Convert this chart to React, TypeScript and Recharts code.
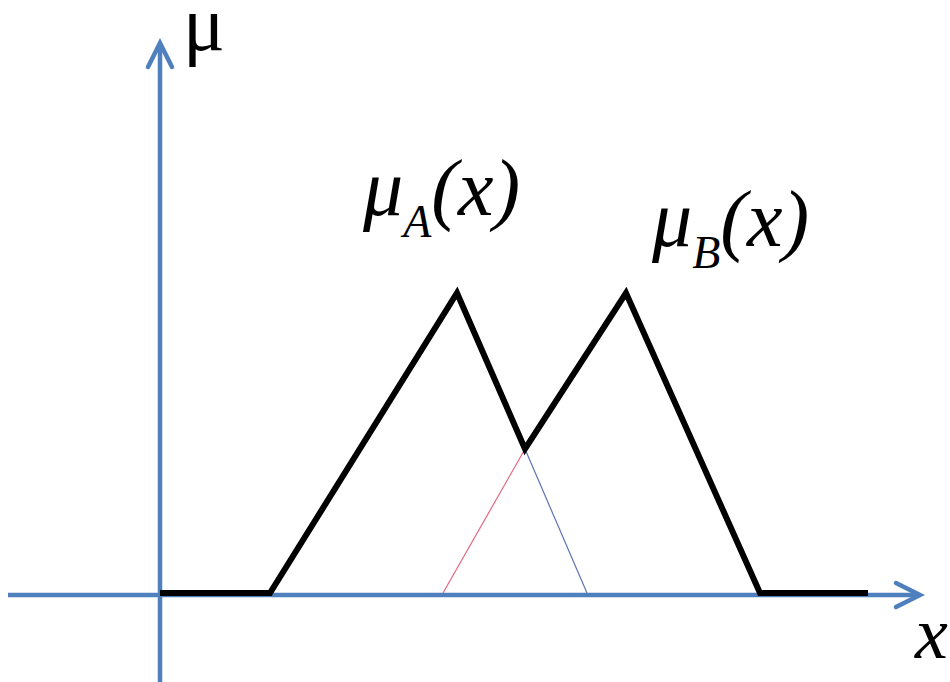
import { LineChart, Line, XAxis, YAxis, ReferenceLine, ReferenceDot } from "recharts";

// Membership functions of two overlapping fuzzy sets A and B.
// The bold envelope is max(μA, μB); the thin segments are the hidden parts.
const envelopeX = [0, 2.2, 5.94, 7.3, 9.32, 12, 14.16];
const envelopeMu = [0, 0, 1, 0.48, 1, 0, 0];

const riseBX = [5.66, 7.3];
const riseBMu = [0, 0.48];

const fallAX = [7.3, 8.54];
const fallAMu = [0.48, 0];

const peakAX = 5.94;
const peakBX = 9.32;

const toPoints = (xs: number[], mus: number[]) => xs.map((x, i) => ({ x, mu: mus[i] }));

const envelope = toPoints(envelopeX, envelopeMu);
const riseB = toPoints(riseBX, riseBMu);
const fallA = toPoints(fallAX, fallAMu);

const X_DOMAIN: [number, number] = [-3.2, 15.8];
const Y_DOMAIN: [number, number] = [-0.2967, 1.9767];
const X_AXIS_END = 15.24;
const Y_AXIS_END = 1.84;

const AXIS_BLUE = "#4f7fbd";
const SERIF = "Liberation Serif";

function AxisArrow(props: any) {
  const { x1, y1, x2, y2 } = props;
  const dx = x2 - x1;
  const dy = y2 - y1;
  const len = Math.hypot(dx, dy) || 1;
  const ux = dx / len;
  const uy = dy / len;
  const nx = -uy;
  const ny = ux;
  const back = 24;
  const half = 12;
  const tipX = x2 - ux * 2;
  const tipY = y2 - uy * 2;
  const a = `${tipX - ux * back + nx * half},${tipY - uy * back + ny * half}`;
  const b = `${tipX - ux * back - nx * half},${tipY - uy * back - ny * half}`;
  return (
    <g>
      <line x1={x1} y1={y1} x2={tipX - ux * 2} y2={tipY - uy * 2} stroke={AXIS_BLUE} strokeWidth={4.5} />
      <polyline
        points={`${a} ${tipX},${tipY} ${b}`}
        fill="none"
        stroke={AXIS_BLUE}
        strokeWidth={4.5}
        strokeLinecap="round"
        strokeLinejoin="miter"
      />
    </g>
  );
}

// μ with a subscript set name, e.g. μA(x)
const muShape = (sub: string, dx: number, dy: number) => (p: any) => (
  <text x={p.cx + dx} y={p.cy + dy} fontFamily={SERIF} fontStyle="italic" fontSize={80} fill="#000">
    μ
    <tspan fontSize={46} dy={22}>
      {sub}
    </tspan>
    <tspan dy={-22}>(x)</tspan>
  </text>
);

const plainShape = (text: string, dx: number, dy: number, size: number, italic = false) => (p: any) => (
  <text
    x={p.cx + dx}
    y={p.cy + dy}
    fontFamily={SERIF}
    fontStyle={italic ? "italic" : "normal"}
    fontSize={size}
    fill="#000"
  >
    {text}
  </text>
);

export default function App() {
  return (
    <div style={{ position: "absolute", left: 0, top: 0, background: "#fff" }}>
      <LineChart width={950} height={682} margin={{ top: 0, right: 0, bottom: 0, left: 0 }}>
        <XAxis type="number" dataKey="x" domain={X_DOMAIN} allowDataOverflow hide />
        <YAxis type="number" dataKey="mu" domain={Y_DOMAIN} allowDataOverflow hide />

        <ReferenceLine
          segment={[{ x: -3.04, y: -0.007 }, { x: X_AXIS_END, y: -0.007 }]}
          ifOverflow="visible"
          shape={AxisArrow}
        />
        <ReferenceLine
          segment={[{ x: 0, y: Y_DOMAIN[0] }, { x: 0, y: Y_AXIS_END }]}
          ifOverflow="visible"
          shape={AxisArrow}
        />

        <Line data={riseB} dataKey="mu" type="linear" stroke="#e5677f" strokeWidth={1.2} dot={false} activeDot={false} isAnimationActive={false} />
        <Line data={fallA} dataKey="mu" type="linear" stroke="#5d74b4" strokeWidth={1.2} dot={false} activeDot={false} isAnimationActive={false} />
        <Line data={envelope} dataKey="mu" type="linear" stroke="#000" strokeWidth={6} dot={false} activeDot={false} isAnimationActive={false} />

        <ReferenceDot x={peakAX} y={1} r={0} ifOverflow="visible" shape={muShape("A", -94, -78)} />
        <ReferenceDot x={peakBX} y={1} r={0} ifOverflow="visible" shape={muShape("B", 26, -47)} />
        <ReferenceDot x={0} y={Y_AXIS_END} r={0} ifOverflow="visible" shape={plainShape("μ", 23, 9, 78)} />
        <ReferenceDot x={X_AXIS_END} y={-0.007} r={0} ifOverflow="visible" shape={plainShape("x", -7, 63, 74, true)} />
      </LineChart>
    </div>
  );
}
